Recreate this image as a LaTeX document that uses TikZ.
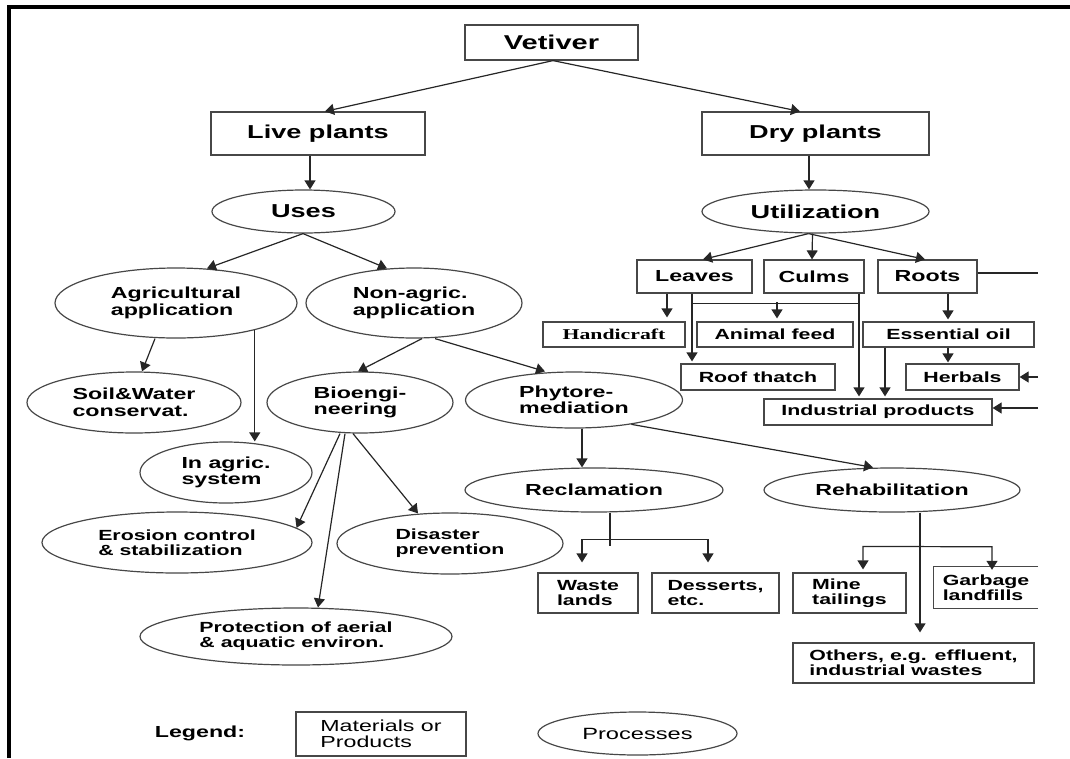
\documentclass[tikz,border=0pt]{standalone}
\usepackage{fontspec}
\usetikzlibrary{shapes.geometric,arrows.meta,calc}
\newfontfamily\hb{Liberation Sans}[FakeStretch=1.45]
\newfontfamily\tb{Liberation Serif}[FakeStretch=1.45]
\begin{document}
\begin{tikzpicture}[x=1pt,y=-1pt,
  box/.style={draw=black!72,line width=1.2pt,rectangle,inner sep=0pt,text=black},
  proc/.style={draw=black!72,line width=1.2pt,ellipse,inner sep=0pt,align=left,text=black},
  big/.style={font=\hb\bfseries\fontsize{18.7}{20}\selectfont},
  med/.style={font=\hb\bfseries\fontsize{16}{16.5}\selectfont},
  sml/.style={font=\hb\bfseries\fontsize{14.7}{15}\selectfont},
  ln/.style={draw=black!85,line width=1.2pt},
  arr/.style={ln,-{Triangle[width=11pt,length=9pt]}},
  dbl/.style={ln,{Triangle[width=11pt,length=9pt]}-{Triangle[width=11pt,length=9pt]}},
]
\useasboundingbox (0,0) rectangle (1070,758);
% frame
\draw[line width=3.2pt] (9,758) -- (9,7) -- (1070,7);

% nodes
\node[box,font=\hb\bfseries\fontsize{20}{22}\selectfont,minimum width=173,minimum height=35] (vet) at (551.5,42.5) {Vetiver};
\node[box,big,minimum width=214,minimum height=43] (live) at (318,133.5) {Live plants};
\node[box,big,minimum width=227,minimum height=43] (dry) at (815.5,133.5) {Dry plants};
\node[proc,big,minimum width=183,minimum height=43] (uses) at (303.5,211.5) {Uses};
\node[proc,big,minimum width=227,minimum height=43] (util) at (815.5,211.5) {Utilization};
\node[proc,med,minimum width=242,minimum height=70] (agri) at (176,303) {Agricultural\\application};
\node[proc,med,minimum width=216,minimum height=70] (nonag) at (414,303) {Non-agric.\\application};
\node[proc,med,minimum width=214,minimum height=61] (soil) at (134,402.5) {Soil\&Water\\conservat.};
\node[proc,med,minimum width=172,minimum height=61] (inag) at (226,472.5) {In agric.\\system};
\node[proc,med,minimum width=186,minimum height=61] (bio) at (360,402.5) {Bioengi-\\neering};
\node[proc,med,minimum width=217,minimum height=56] (phyto) at (574,400) {Phytore-\\mediation};
\node[proc,sml,minimum width=270,minimum height=61] (eros) at (177,542.5) {Erosion control\\\& stabilization};
\node[proc,sml,minimum width=312,minimum height=57] (prot) at (296,636.5) {Protection of aerial\\\& aquatic environ.};
\node[proc,sml,minimum width=226,minimum height=61] (dis) at (450,543.5) {Disaster\\prevention};
\node[proc,med,minimum width=258,minimum height=44] (recl) at (594,490) {Reclamation};
\node[proc,med,minimum width=256,minimum height=44] (rehab) at (892,490) {Rehabilitation};

\node[box,sml,align=left,minimum width=100,minimum height=40] (waste) at (588,593) {Waste\\lands};
\node[box,sml,align=left,minimum width=127,minimum height=40] (dess) at (715.5,593) {Desserts,\\etc.};
\node[box,sml,align=left,minimum width=113,minimum height=40] (mine) at (849.5,593) {Mine\\tailings};
\node[sml,align=left,inner sep=0pt,minimum width=104,minimum height=41] (garb) at (986,587.5) {Garbage\\landfills};
\draw[draw=black!72,line width=1.2pt] (garb.north east) -- (garb.north west) -- (garb.south west) -- (garb.south east);
\node[box,sml,align=left,minimum width=241,minimum height=40] (others) at (913.5,663) {Others, e.g. effluent,\\industrial wastes};

\node[box,med,minimum width=115,minimum height=33] (leaves) at (694.5,276.5) {Leaves};
\node[box,med,minimum width=100,minimum height=33] (culms) at (814,276.5) {Culms};
\node[box,med,minimum width=99,minimum height=33] (roots) at (927.5,276.5) {Roots};
\node[box,font=\tb\bfseries\fontsize{15}{15}\selectfont,minimum width=142,minimum height=25] (handi) at (614,334.5) {Handicraft};
\node[box,sml,minimum width=156,minimum height=25] (animal) at (775,334.5) {Animal feed};
\node[box,sml,minimum width=171,minimum height=25] (ess) at (948.5,334.5) {Essential oil};
\node[box,sml,minimum width=154,minimum height=26] (roof) at (758,377) {Roof thatch};
\node[box,sml,minimum width=113,minimum height=26] (herb) at (962.5,377) {Herbals};
\node[box,sml,minimum width=228,minimum height=26] (ind) at (878,412) {Industrial products};

% legend
\node[med] (leg) at (200,733) {Legend:};
\node[box,font=\hb\fontsize{16}{16.5}\selectfont,align=left,minimum width=170,minimum height=44] (lbox) at (381,734) {Materials or\\Products};
\node[proc,font=\hb\fontsize{16.3}{17}\selectfont,minimum width=199,minimum height=43] (lproc) at (637.5,733.5) {Processes};

% connectors: top
\coordinate (vs) at ($(vet.south)+(1.5,0)$);
\draw[arr] (vs) -- ($(live.north)+(7,0)$);
\draw[arr] (vs) -- ($(dry.north)+(-15.5,0)$);
\draw[arr] ($(live.south)+(-8,0)$) -- ($(uses.north)+(6.5,0)$);
\draw[arr] ($(dry.south)+(-6.5,0)$) -- ($(util.north)+(-6.5,0)$);

% live branch
\coordinate (us) at ($(uses.south)+(-0.5,0)$);
\draw[arr] (us) -- ($(agri.north)+(31,1)$);
\draw[arr] (us) -- ($(nonag.north)+(-27,1)$);
\draw[arr] ($(agri.south)+(-21,0)$) -- ($(soil.north)+(8,0)$);
\coordinate (ai) at (agri.-19);
\draw[arr] (ai) -- (ai |- inag.north);
\draw[arr] ($(nonag.south)+(8,0)$) -- ($(bio.north)+(-2,0)$);
\draw[arr] ($(nonag.south)+(21,0)$) -- ($(phyto.north)+(-29,0)$);
\draw[arr] ($(bio.south)+(-20,0)$) -- (eros.7);
\draw[arr] ($(bio.south)+(-15,0)$) -- ($(prot.north)+(22,0)$);
\draw[arr] ($(bio.south)+(-7,0)$) -- ($(dis.north)+(-32,1)$);
\coordinate (pr) at ($(phyto.south)+(8,0)$);
\draw[arr] (pr) -- (pr |- recl.north);
\draw[arr] (phyto.-23) -- ($(rehab.north)+(-19,0)$);

% reclamation
\draw[ln] ($(recl.south)+(16,0)$) -- ($(recl.south)+(16,33)$);
\draw[dbl] ($(waste.north)+(-6,-10)$) -- ($(waste.north)+(-6,-33)$) -- ($(dess.north)+(-7.5,-33)$) -- ($(dess.north)+(-7.5,-10)$);

% rehabilitation
\coordinate (rhs) at ($(rehab.south)+(28,0)$);
\draw[arr] (rhs) -- ($(others.north)+(6.5,-10)$);
\draw[dbl] ($(mine.north)+(13.5,-3)$) -- ($(mine.north)+(13.5,-26)$) -- ($(garb.north)+(6,-20)$) -- ($(garb.north)+(6,3)$);

% dry branch
\coordinate (uo) at ($(util.south)+(-7,0)$);
\draw[arr] (uo) -- ($(leaves.north)+(8.5,0)$);
\draw[arr] ($(util.south)+(-3,0)$) -- ($(culms.north)+(-2,0)$);
\draw[arr] (uo) -- ($(roots.north)+(-2.5,0)$);
\coordinate (rr) at (1038,273);
\draw[ln] ($(roots.east)+(0,-3.5)$) -- (rr);
\draw[arr] ($(leaves.south)+(-27.5,0)$) -- ($(handi.north)+(53,-4)$);
\coordinate (lr) at ($(leaves.south)+(-2.5,0)$);
\draw[arr] (lr) -- ($(roof.north)+(-66,-2)$);
\draw[ln] ($(lr)+(0,10)$) -- ($(culms.south)+(45,10)$);
\draw[arr] ($(animal.north)+(2,-19)$) -- ($(animal.north)+(2,-3)$);
\draw[arr] ($(culms.south)+(45,0)$) -- ($(ind.north)+(-19,-2)$);
\draw[arr] ($(roots.south)+(20.5,0)$) -- ($(ess.north)+(-0.5,-2)$);
\draw[arr] ($(ess.south)+(-0.5,0)$) -- ($(herb.north)+(-14.5,-1)$);
\draw[arr] ($(ess.south)+(-63.5,0)$) -- ($(ind.north)+(7,-2)$);
\coordinate (rhb) at (1038,377);
\draw[arr] (rhb) -- (herb.east);
\coordinate (rin) at (1038,408);
\draw[arr] (rin) -- ($(ind.east)+(0,-4)$);
\end{tikzpicture}
\end{document}
